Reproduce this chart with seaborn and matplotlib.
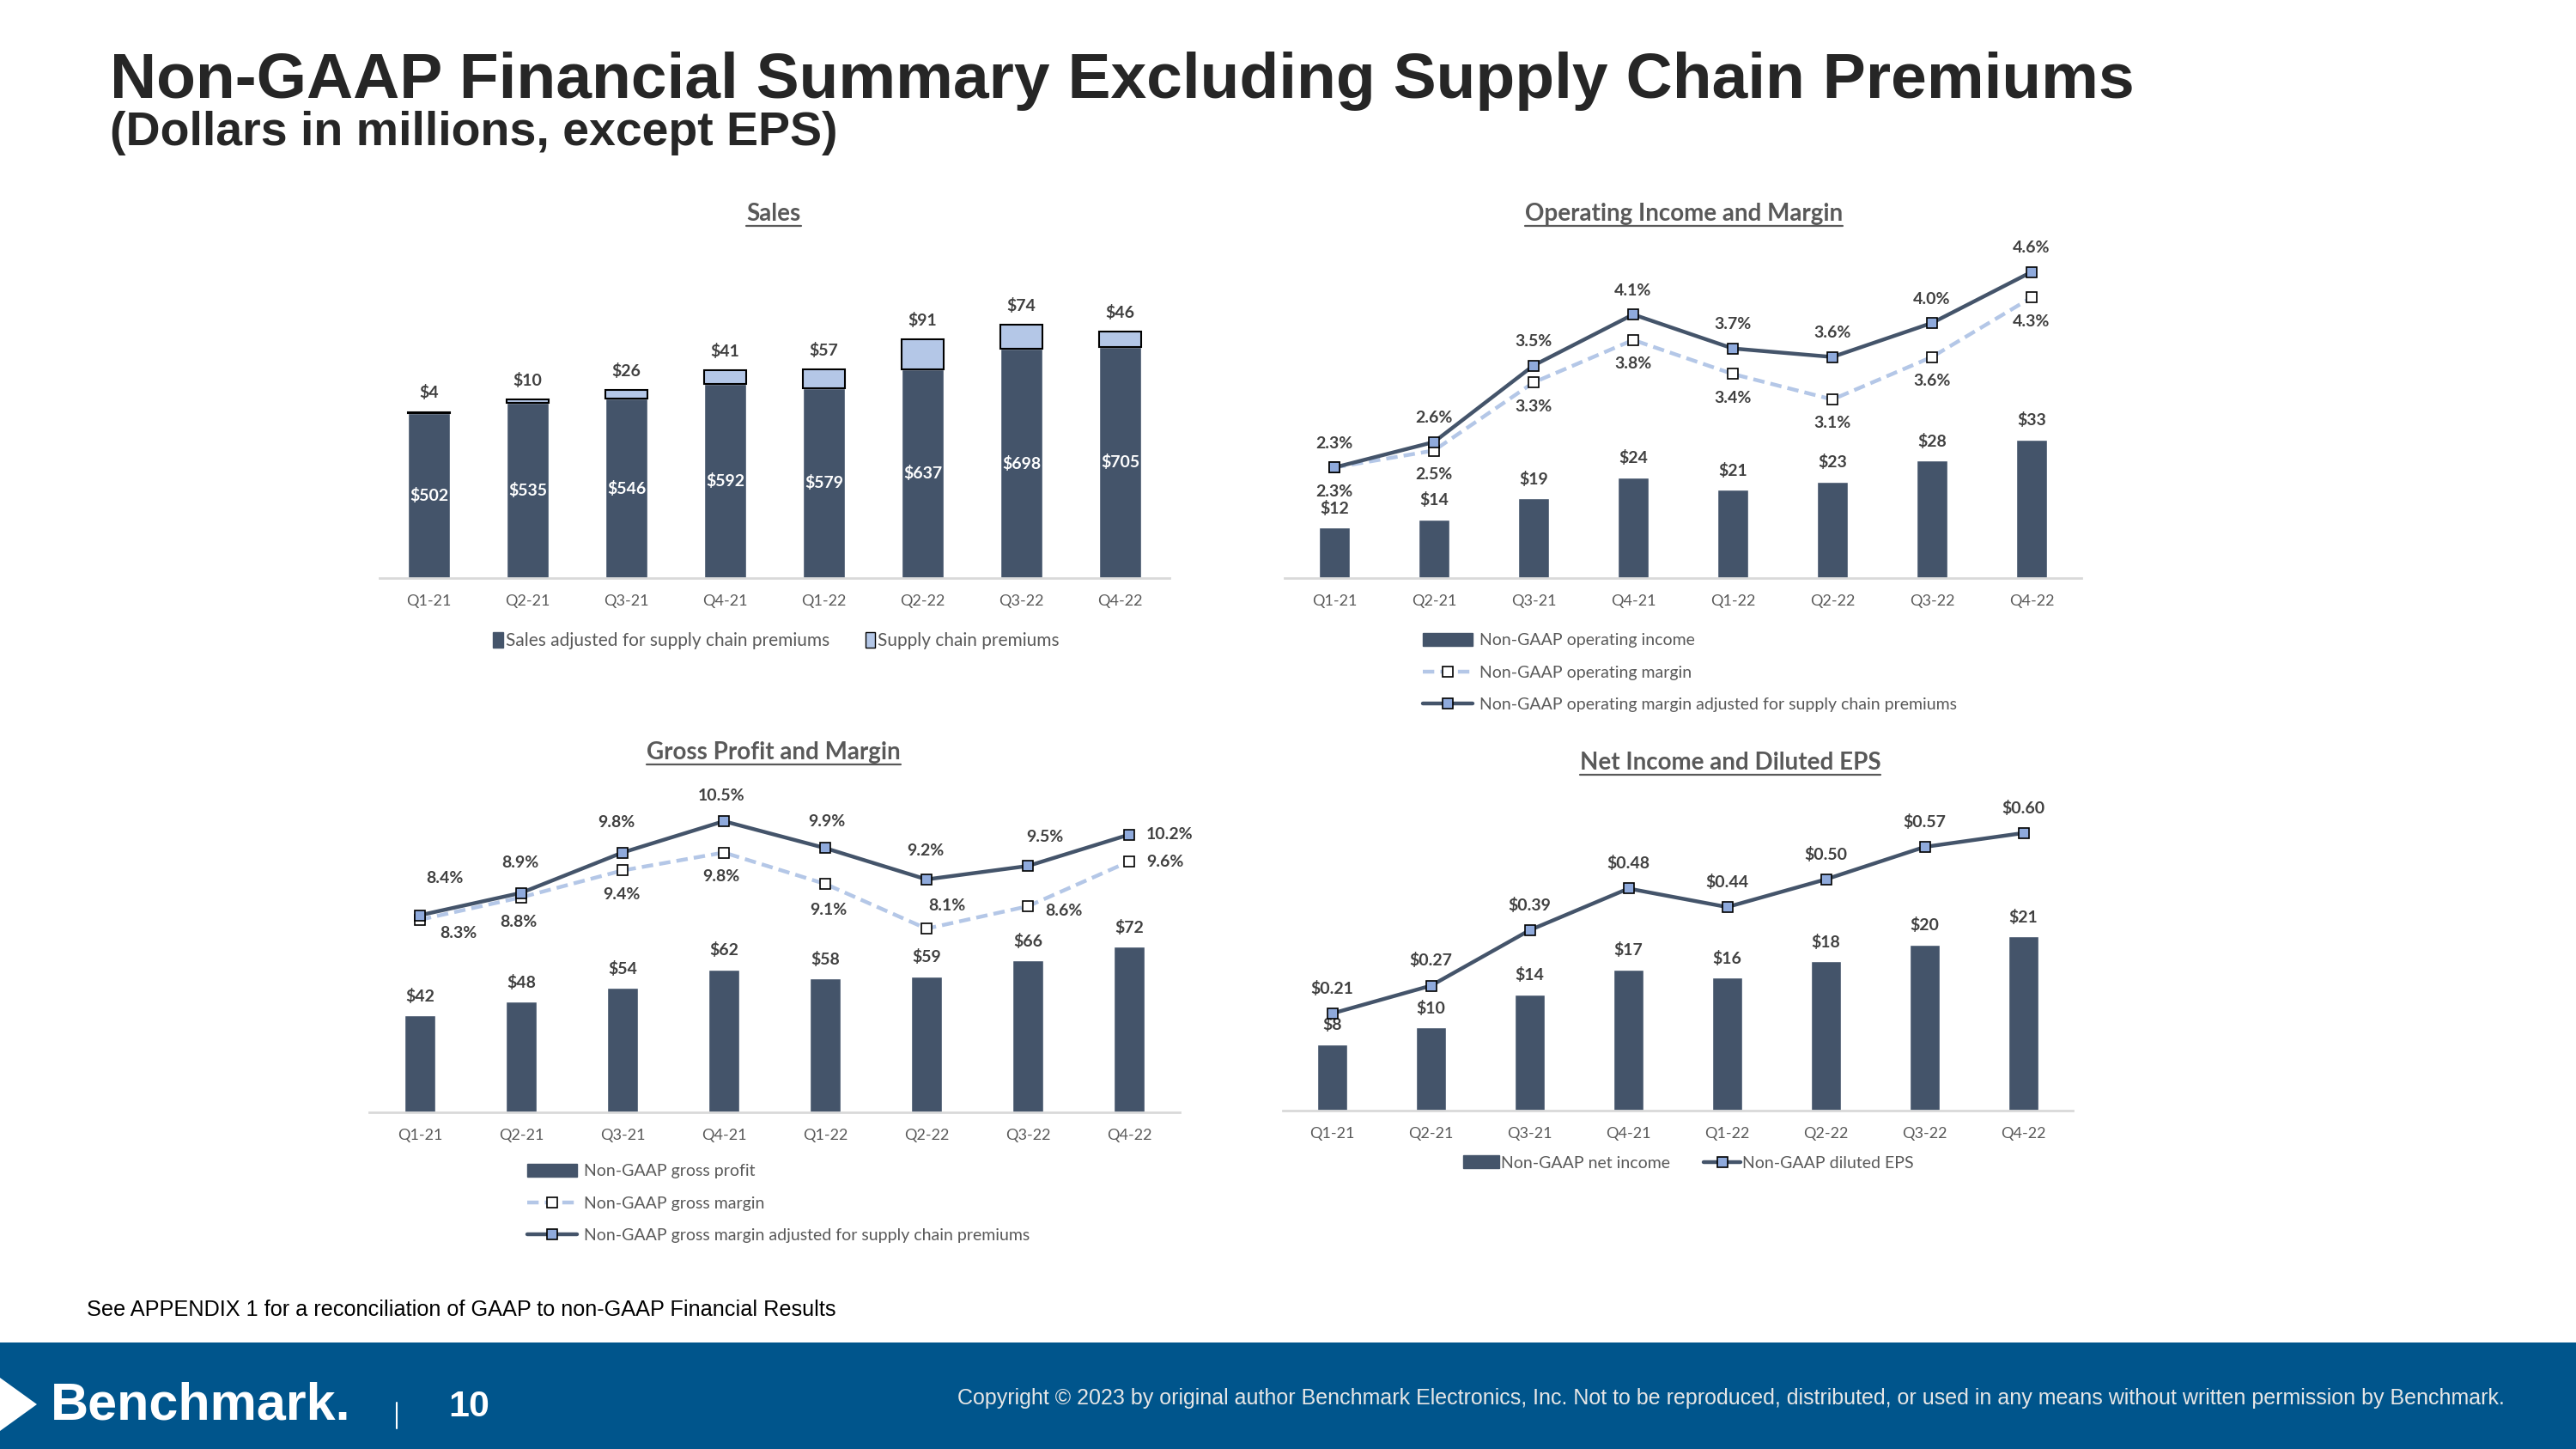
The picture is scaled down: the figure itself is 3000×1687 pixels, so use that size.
import numpy as np
import pandas as pd
import seaborn as sns
import matplotlib
matplotlib.use('Agg')
from matplotlib import pyplot as plt
from matplotlib.patches import Patch, Polygon, Rectangle
from matplotlib.lines import Line2D

# ---- data ----
quarters = ['Q1-21', 'Q2-21', 'Q3-21', 'Q4-21', 'Q1-22', 'Q2-22', 'Q3-22', 'Q4-22']

sales_adjusted = [502, 535, 546, 592, 579, 637, 698, 705]
supply_premiums = [4, 10, 26, 41, 57, 91, 74, 46]

op_income = [12, 14, 19, 24, 21, 23, 28, 33]
op_margin = [2.3, 2.5, 3.3, 3.8, 3.4, 3.1, 3.6, 4.3]
op_margin_adj = [2.3, 2.6, 3.5, 4.1, 3.7, 3.6, 4.0, 4.6]

gross_profit = [42, 48, 54, 62, 58, 59, 66, 72]
gross_margin = [8.3, 8.8, 9.4, 9.8, 9.1, 8.1, 8.6, 9.6]
gross_margin_adj = [8.4, 8.9, 9.8, 10.5, 9.9, 9.2, 9.5, 10.2]

net_income = [8, 10, 14, 17, 16, 18, 20, 21]
diluted_eps = [0.21, 0.27, 0.39, 0.48, 0.44, 0.50, 0.57, 0.60]

# ---- style ----
DARK = '#44546A'
LIGHT = '#B4C7E7'
MARK = '#8FAADC'
TXT = '#404040'
TICK = '#595959'
AXIS = '#D9D9D9'
BLUE = '#00558C'
LBL = 14

sns.set_style('white')
plt.rcParams['font.family'] = ['Lato', 'DejaVu Sans']

W, H = 3000, 1687
fig = plt.figure(figsize=(W / 100, H / 100), dpi=100)


def rect(l, r, b, t):
    return [l / W, 1 - b / H, (r - l) / W, (b - t) / H]


def style_axis(ax, lim):
    ax.set_xlim(-0.5, 7.5)
    ax.set_ylim(*lim)
    for s in ['top', 'left', 'right']:
        ax.spines[s].set_visible(False)
    ax.spines['bottom'].set_color(AXIS)
    ax.spines['bottom'].set_linewidth(2)
    ax.set_yticks([])
    ax.tick_params(axis='x', length=0, pad=14, labelsize=13, labelcolor=TICK)
    ax.set_xlabel('')
    ax.set_ylabel('')


def twin(ax, lim):
    ax2 = ax.twinx()
    ax2.set_ylim(*lim)
    ax2.set_yticks([])
    for s in ax2.spines.values():
        s.set_visible(False)
    return ax2


def draw_margins(ax2, plain, adj):
    sns.lineplot(x=np.arange(8), y=plain, ax=ax2, color=LIGHT, lw=3.2,
                 linestyle=(0, (3, 1.6)), marker='s', markersize=8,
                 markerfacecolor='white', markeredgecolor='black', markeredgewidth=1.2)
    sns.lineplot(x=np.arange(8), y=adj, ax=ax2, color=DARK, lw=3.2,
                 marker='s', markersize=8, markerfacecolor=MARK,
                 markeredgecolor='black', markeredgewidth=1.2)
    ax2.set_xlabel('')
    ax2.set_ylabel('')


def label(ax, x, y, s, dx, dy, color=TXT):
    ax.annotate(s, xy=(x, y), xytext=(dx, dy), textcoords='offset points',
                ha='center', va='center', fontsize=LBL, fontweight='bold', color=color)


titles = []


def chart_title(x, y, s):
    titles.append(fig.text(x / W, 1 - y / H, s, ha='center', va='center',
                           fontsize=20, fontweight='bold', color=TICK))


bar_h = Patch(facecolor=DARK, edgecolor=DARK)
dash_h = Line2D([], [], color=LIGHT, lw=3.2, ls=(0, (3, 1.6)), marker='s', ms=8,
                mfc='white', mec='black', mew=1.2)
adj_h = Line2D([], [], color=DARK, lw=3.2, marker='s', ms=8, mfc=MARK, mec='black', mew=1.2)
leg_kw = dict(frameon=False, borderpad=0, borderaxespad=0,
              labelcolor=TICK, bbox_transform=fig.transFigure)

# ---- Sales ----
ax = fig.add_axes(rect(442, 1362, 673, 291))
sns.barplot(x=quarters, y=sales_adjusted, color=DARK, saturation=1, width=0.42, ax=ax)
ax.bar(np.arange(8), supply_premiums, bottom=sales_adjusted, width=0.42,
       color=LIGHT, edgecolor='black', linewidth=1.5)
style_axis(ax, (0, 1000))
for i in range(8):
    label(ax, i, sales_adjusted[i] / 2, f'${sales_adjusted[i]}', 0, 0, color='white')
    label(ax, i, sales_adjusted[i] + supply_premiums[i], f'${supply_premiums[i]}', 0, 16)
chart_title(901, 249, 'Sales')
ax.legend([bar_h, Patch(facecolor=LIGHT, edgecolor='black')],
          ['Sales adjusted for supply chain premiums', 'Supply chain premiums'],
          loc='center', bbox_to_anchor=(904 / W, 1 - 746 / H), ncol=2, fontsize=15,
          handlelength=0.55, handleheight=1.0, handletextpad=0.15, columnspacing=2.0, **leg_kw)

# ---- Operating income ----
ax = fig.add_axes(rect(1496, 2424, 673, 277))
sns.barplot(x=quarters, y=op_income, color=DARK, saturation=1, width=0.31, ax=ax)
style_axis(ax, (0, 81))
ax2 = twin(ax, (1, 5))
draw_margins(ax2, op_margin, op_margin_adj)
ax.set_xlim(-0.5, 7.5)
for i in range(8):
    label(ax, i, op_income[i], f'${op_income[i]}', 0, 16)
    label(ax2, i, op_margin_adj[i], f'{op_margin_adj[i]:.1f}%', 0, 20)
    label(ax2, i, op_margin[i], f'{op_margin[i]:.1f}%', 0, -20)
chart_title(1961, 249, 'Operating Income and Margin')
ax.legend([bar_h, dash_h, adj_h],
          ['Non-GAAP operating income', 'Non-GAAP operating margin',
           'Non-GAAP operating margin adjusted for supply chain premiums'],
          loc='center left', bbox_to_anchor=(1657 / W, 1 - 783 / H), fontsize=14,
          handlelength=3.0, handleheight=0.8, handletextpad=0.4, labelspacing=1.05, **leg_kw)

# ---- Gross profit ----
ax = fig.add_axes(rect(430, 1374, 1295, 930))
sns.barplot(x=quarters, y=gross_profit, color=DARK, saturation=1, width=0.30, ax=ax)
style_axis(ax, (0, 136))
ax2 = twin(ax, (4, 11))
draw_margins(ax2, gross_margin, gross_margin_adj)
ax.set_xlim(-0.5, 7.5)
adj_off = [(21, 31), (-1, 25), (-5, 25), (-2, 21), (1, 22), (-1, 24), (14, 24), (34, 0)]
plain_off = [(32, -11), (-2, -21), (-1, -20), (-2, -20), (3, -22), (17, 19), (30, -4), (30, 0)]
for i in range(8):
    label(ax, i, gross_profit[i], f'${gross_profit[i]}', 0, 16)
    label(ax2, i, gross_margin_adj[i], f'{gross_margin_adj[i]:.1f}%', *adj_off[i])
    label(ax2, i, gross_margin[i], f'{gross_margin[i]:.1f}%', *plain_off[i])
chart_title(901, 876, 'Gross Profit and Margin')
ax.legend([bar_h, dash_h, adj_h],
          ['Non-GAAP gross profit', 'Non-GAAP gross margin',
           'Non-GAAP gross margin adjusted for supply chain premiums'],
          loc='center left', bbox_to_anchor=(614 / W, 1 - 1401 / H), fontsize=14,
          handlelength=3.0, handleheight=0.8, handletextpad=0.4, labelspacing=1.05, **leg_kw)

# ---- Net income / EPS ----
ax = fig.add_axes(rect(1494, 2414, 1293, 916))
sns.barplot(x=quarters, y=net_income, color=DARK, saturation=1, width=0.30, ax=ax)
style_axis(ax, (0, 39))
ax2 = twin(ax, (0, 0.7))
sns.lineplot(x=np.arange(8), y=diluted_eps, ax=ax2, color=DARK, lw=3.2, marker='s',
             markersize=8, markerfacecolor=MARK, markeredgecolor='black', markeredgewidth=1.2)
ax2.set_ylabel('')
ax.set_xlim(-0.5, 7.5)
for i in range(8):
    label(ax, i, net_income[i], f'${net_income[i]}', 0, 16)
    label(ax2, i, diluted_eps[i], f'${diluted_eps[i]:.2f}', 0, 21)
chart_title(2015, 888, 'Net Income and Diluted EPS')
ax.legend([bar_h, adj_h], ['Non-GAAP net income', 'Non-GAAP diluted EPS'],
          loc='center', bbox_to_anchor=(1966 / W, 1 - 1354 / H), ncol=2, fontsize=14,
          handlelength=2.2, handleheight=0.8, handletextpad=0.1, columnspacing=2.0, **leg_kw)

# ---- slide text ----
ARIAL = ['Liberation Sans', 'DejaVu Sans']
fig.text(128 / W, 1 - 114 / H, 'Non-GAAP Financial Summary Excluding Supply Chain Premiums',
         family=ARIAL, fontsize=54, fontweight='bold', color='#262626', va='baseline')
fig.text(128 / W, 1 - 169 / H, '(Dollars in millions, except EPS)',
         family=ARIAL, fontsize=40, fontweight='bold', color='#262626', va='baseline')
fig.text(101 / W, 1 - 1525 / H,
         'See APPENDIX 1 for a reconciliation of GAAP to non-GAAP Financial Results',
         family=ARIAL, fontsize=18.2, color='black', va='center')

# footer band
fig.add_artist(Rectangle((0, 0), 1, (H - 1563) / H, transform=fig.transFigure,
                         facecolor=BLUE, edgecolor='none', zorder=0))
fig.add_artist(Polygon([(0, 1 - 1604 / H), (43 / W, 1 - 1635 / H), (0, 1 - 1666 / H)],
                       closed=True, transform=fig.transFigure, facecolor='white', edgecolor='none'))
fig.text(59 / W, 1 - 1637 / H, 'Benchmark.', family=ARIAL, fontsize=44, fontweight='bold',
         color='white', va='center')
fig.add_artist(Line2D([462 / W, 462 / W], [1 - 1633 / H, 1 - 1663 / H],
                      transform=fig.transFigure, color='white', lw=1.5))
fig.text(522 / W, 1 - 1638 / H, '10', family=ARIAL, fontsize=31, fontweight='bold',
         color='white', va='center')
fig.text(2917 / W, 1 - 1628 / H,
         'Copyright \u00a9 2023 by original author Benchmark Electronics, Inc. Not to be reproduced, '
         'distributed, or used in any means without written permission by Benchmark.',
         family=ARIAL, fontsize=18, color='#E6E6E6', ha='right', va='center')

# underline the chart titles
fig.canvas.draw()
for t in titles:
    bb = t.get_window_extent()
    fig.add_artist(Line2D([bb.x0 / W, bb.x1 / W], [(bb.y0 - 1) / H] * 2,
                          transform=fig.transFigure, color=TICK, lw=1.6))

fig.savefig('out.png', dpi=100, facecolor='white')
